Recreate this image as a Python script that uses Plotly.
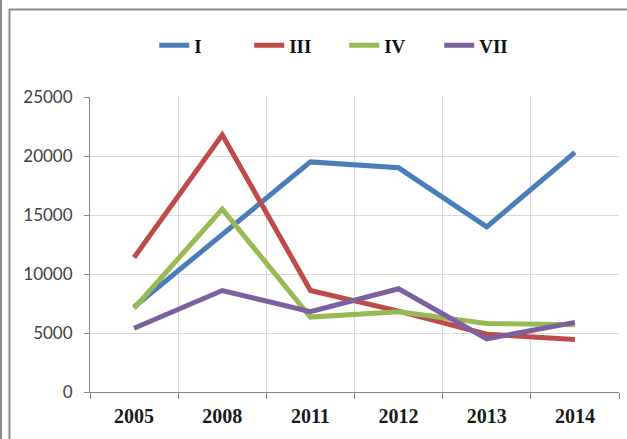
import plotly.graph_objects as go

years = ["2005", "2008", "2011", "2012", "2013", "2014"]
series_names = ["I", "III", "IV", "VII"]
vals_I = [7200, 13400, 19500, 19000, 14000, 20300]
vals_III = [11400, 21800, 8600, 6850, 4900, 4450]
vals_IV = [7100, 15500, 6350, 6800, 5800, 5700]
vals_VII = [5400, 8600, 6800, 8750, 4500, 5900]
colors = ["#4a7ebb", "#be4b48", "#98b954", "#7d60a0"]

W, H = 627, 439
ml, mr, mt, mb = 90, 8, 97, 47

fig = go.Figure()
for name, vals, col in zip(series_names, [vals_I, vals_III, vals_IV, vals_VII], colors):
    fig.add_trace(go.Scatter(x=years, y=vals, name=name, mode="lines",
                             line=dict(color=col, width=5)))

# pixel -> paper helpers for the outer frame
def px(x):
    return (x - ml) / (W - ml - mr)

def py(y):
    return 1 - (y - mt) / (H - mt - mb)

frame = dict(color="#8c8c8c", width=2)
fig.add_shape(type="line", xref="paper", yref="paper", x0=px(1), x1=px(1), y0=py(0), y1=py(H), line=frame)
fig.add_shape(type="line", xref="paper", yref="paper", x0=px(9.5), x1=px(9.5), y0=py(9), y1=py(H), line=frame)
fig.add_shape(type="line", xref="paper", yref="paper", x0=px(9), x1=px(W), y0=py(9.5), y1=py(9.5), line=frame)

fig.update_layout(
    width=W, height=H,
    margin=dict(l=ml, r=mr, t=mt, b=mb, autoexpand=False),
    paper_bgcolor="white", plot_bgcolor="white",
    showlegend=True,
    legend=dict(orientation="h", xref="container", yref="container",
                x=0.549, xanchor="center", y=1 - 45.5 / H, yanchor="middle",
                entrywidth=50,
                font=dict(family="Liberation Serif", size=19, color="#111111", weight="bold")),
)
fig.update_xaxes(type="category", range=[-0.5, 5.5], tickson="boundaries", ticks="outside", ticklen=6,
                 tickcolor="#868686", showline=True, linecolor="#868686", linewidth=1,
                 showgrid=True, gridcolor="#d9d9d9", gridwidth=1, ticklabelstandoff=6,
                 tickfont=dict(family="Liberation Serif", size=20, color="#1a1a1a", weight="bold"))
fig.update_yaxes(range=[0, 25000], dtick=5000, tickformat="d", ticks="outside", ticklen=5,
                 tickcolor="#868686", showline=True, linecolor="#868686", linewidth=1,
                 showgrid=True, gridcolor="#d9d9d9", gridwidth=1, zeroline=False,
                 ticklabelstandoff=8,
                 tickfont=dict(family="Lato", size=17, color="#404040"))

fig.write_html("out.html", config={"displayModeBar": False},
               post_script="document.body.style.margin='0';")
